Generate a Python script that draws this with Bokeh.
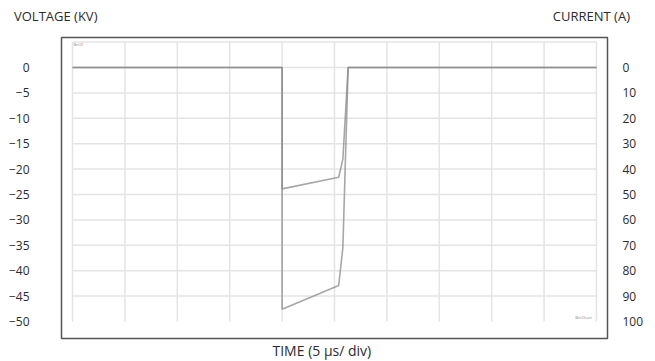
from bokeh.plotting import figure
from bokeh.models import Range1d, LinearAxis, Label, FixedTicker, Title, Div
from bokeh.layouts import column
from bokeh.embed import file_html
from bokeh.resources import INLINE

# ---- data ----
time_us = [0, 20, 20, 25.4, 25.8, 26.3, 50]
voltage_kv = [0, 0, -47.6, -42.9, -35.4, 0, 0]
current_time_us = [0, 20, 20, 25.4, 25.8, 26.3, 50]
current_a = [0, 0, 47.8, 43.2, 36.0, 0, 0]

voltage_ticks = [0, -5, -10, -15, -20, -25, -30, -35, -40, -45, -50]
current_ticks = [0, 10, 20, 30, 40, 50, 60, 70, 80, 90, 100]
time_grid = [0, 5, 10, 15, 20, 25, 30, 35, 40, 45, 50]
volt_grid = [-45, -40, -35, -30, -25, -20, -15, -10, -5, 0, 5]

left_title = "VOLTAGE (KV)"
right_title = "CURRENT (A)"
x_title = "TIME (5 µs/ div)"

FONT = "Open Sans"
TXT = "#2b2b2b"

header = Div(
    width=655, height=36, margin=0,
    text=(
        f'<div style="position:relative;width:655px;height:36px;'
        f"font-family:'{FONT}';font-size:13px;color:{TXT};line-height:18px;\">"
        f'<span style="position:absolute;left:14px;top:7px;">{left_title}</span>'
        f'<span style="position:absolute;right:25px;top:7px;">{right_title}</span>'
        f'</div>'
    ),
)

p = figure(width=655, height=325, output_backend="svg", toolbar_location=None,
           x_range=Range1d(-1.05, 51.05), y_range=Range1d(-53.35, 5.906),
           min_border_left=61, min_border_right=48, min_border_top=1,
           min_border_bottom=23, background_fill_color="white",
           border_fill_color="white", margin=0)
p.extra_y_ranges = {"current": Range1d(106.7, -11.81)}

p.outline_line_color = "#555555"
p.outline_line_width = 1.5
p.xgrid.visible = False
p.ygrid.visible = False

# custom grid restricted to the scope area
p.segment(x0=time_grid, x1=time_grid, y0=[-50] * len(time_grid), y1=[5] * len(time_grid),
          line_color="#e4e4e4", line_width=1.5)
p.segment(x0=[0] * len(volt_grid), x1=[50] * len(volt_grid), y0=volt_grid, y1=volt_grid,
          line_color="#e4e4e4", line_width=1.5)

# traces
p.line(time_us, voltage_kv, line_color="#8a8a8a", line_alpha=0.75, line_width=1.6)
p.line(current_time_us, current_a, y_range_name="current",
       line_color="#8a8a8a", line_alpha=0.75, line_width=1.6)

# left axis (voltage)
ya = p.yaxis[0]
ya.ticker = FixedTicker(ticks=voltage_ticks)
ya.axis_line_color = None
ya.major_tick_line_color = None
ya.minor_tick_line_color = None
ya.major_label_standoff = 26
ya.major_label_text_font = FONT
ya.major_label_text_font_size = "12px"
ya.major_label_text_color = TXT
ya.major_label_text_align = "center"

# right axis (current)
ra = LinearAxis(y_range_name="current", ticker=FixedTicker(ticks=current_ticks))
ra.axis_line_color = None
ra.major_tick_line_color = None
ra.minor_tick_line_color = None
ra.major_label_standoff = 9
ra.major_label_text_font = FONT
ra.major_label_text_font_size = "12px"
ra.major_label_text_color = TXT
p.add_layout(ra, "right")

# bottom: no ticks, only the time title
p.xaxis[0].visible = False
p.add_layout(Title(text=x_title, align="left", offset=211, standoff=1,
                   text_font=FONT, text_font_size="14px", text_font_style="normal",
                   text_color=TXT), "below")

# tiny channel tags
p.add_layout(Label(x=12, y=297, x_units="screen", y_units="screen",
                   text="Bn(2)", text_align="left", text_baseline="top",
                   text_font=FONT, text_font_size="4px", text_color="#888888"))
p.add_layout(Label(x=531, y=19, x_units="screen", y_units="screen",
                   text="Bn(2)curr", text_align="right", text_baseline="bottom",
                   text_font=FONT, text_font_size="4px", text_color="#888888"))

layout = column(header, p, spacing=0)
open("out.html", "w").write(file_html(layout, INLINE))
